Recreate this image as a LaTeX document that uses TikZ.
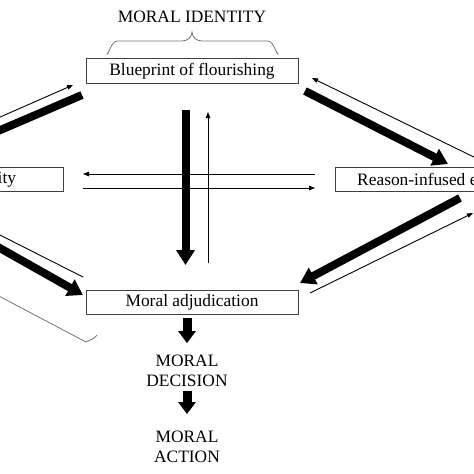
\documentclass[tikz,border=0pt]{standalone}
\usepackage{fontspec}
\setmainfont{Liberation Serif}
\usetikzlibrary{arrows.meta}
\begin{document}
\begin{tikzpicture}[x=1pt,y=-1pt,
  txt/.style={font=\fontsize{17.4}{20}\selectfont},
  box/.style={txt, draw=black!75, line width=0.8pt, minimum height=24.5pt, inner sep=0pt},
  lbl/.style={txt, align=center, inner sep=0pt},
  thinarrow/.style={line width=0.9pt, -{Triangle[length=6pt,width=4.5pt]}},
  thinline/.style={line width=0.9pt},
  thickarrow/.style={line width=8pt, -{Triangle[length=15pt,width=18pt]}},
  thickline/.style={line width=8pt},
  smallarrow/.style={line width=9pt, -{Triangle[length=12pt,width=17pt]}},
  bracecol/.style={draw=black!55, line width=0.8pt}
  ]
\useasboundingbox (0,0) rectangle (474,474);
\clip (0,0) rectangle (474,474);

% nodes
\node[lbl] (title) at (192,17) {MORAL IDENTITY};
\node[box, minimum width=212pt] (blue) at (192,71) {Blueprint of flourishing};
\node[box, minimum width=219pt] (sens) at (-46.5,179.5) {Ethical sensitivity};
\node[box, minimum width=214pt] (reas) at (442,179.5) {Reason-infused emotion};
\node[box, minimum width=212pt] (adj) at (192,302.5) {Moral adjudication};
\node[lbl] (dec) at (187,371) {MORAL\\DECISION};
\node[lbl] (act) at (187,447) {MORAL\\ACTION};

% brace above blueprint
\draw[bracecol] (107,53) to[out=-90,in=180] (117,41) -- (182,41)
  to[out=0,in=-90] (192,32) to[out=-90,in=180] (202,41) -- (268,41)
  to[out=0,in=-90] (278,53);

% coordinates
\coordinate (tlA) at (-10,134.5); \coordinate (tlB) at (82,95);
\coordinate (tlC) at (-10,121.5); \coordinate (tlD) at (73,85);
\coordinate (trA) at (305,91);   \coordinate (trB) at (448,164);
\coordinate (trC) at (480,160);  \coordinate (trD) at (312,78);
\coordinate (brA) at (460,198);  \coordinate (brB) at (300,283);
\coordinate (brC) at (310,293);  \coordinate (brD) at (473,213);
\coordinate (blA) at (-10,242.5); \coordinate (blB) at (83,295);
\coordinate (blC) at (-10,230);  \coordinate (blD) at (83,277);
\coordinate (vA) at (185.5,110); \coordinate (vB) at (185.5,265);
\coordinate (vC) at (208,263);   \coordinate (vD) at (208,112);
\coordinate (hA) at (315,174);   \coordinate (hB) at (83,174);
\coordinate (hC) at (83,188);    \coordinate (hD) at (315,188);

% diagonal connectors
\draw[thickline] (tlA) -- (tlB);
\draw[thinarrow] (tlC) -- (tlD);
\draw[thickarrow] (trA) -- (trB);
\draw[thinarrow] (trC) -- (trD);
\draw[thickarrow] (brA) -- (brB);
\draw[thinarrow] (brC) -- (brD);
\draw[thickarrow] (blA) -- (blB);
\draw[thinline] (blC) -- (blD);

% horizontal connectors
\draw[thinarrow] (hA) -- (hB);
\draw[thinarrow] (hC) -- (hD);

% vertical connectors
\draw[thinarrow] (vC) -- (vD);
\draw[thickarrow] (vA) -- (vB);

% lower-left bracket edge
\draw[bracecol] (-5,294) -- (86,342) to[out=30,in=-120] (97,335);

% downward arrows
\draw[smallarrow] ([xshift=-5pt,yshift=-3pt]adj.south) -- ([xshift=-5pt,yshift=-28pt]adj.south);
\draw[smallarrow] ([yshift=-4pt]dec.south) -- ([yshift=-27pt]dec.south);
\end{tikzpicture}
\end{document}
